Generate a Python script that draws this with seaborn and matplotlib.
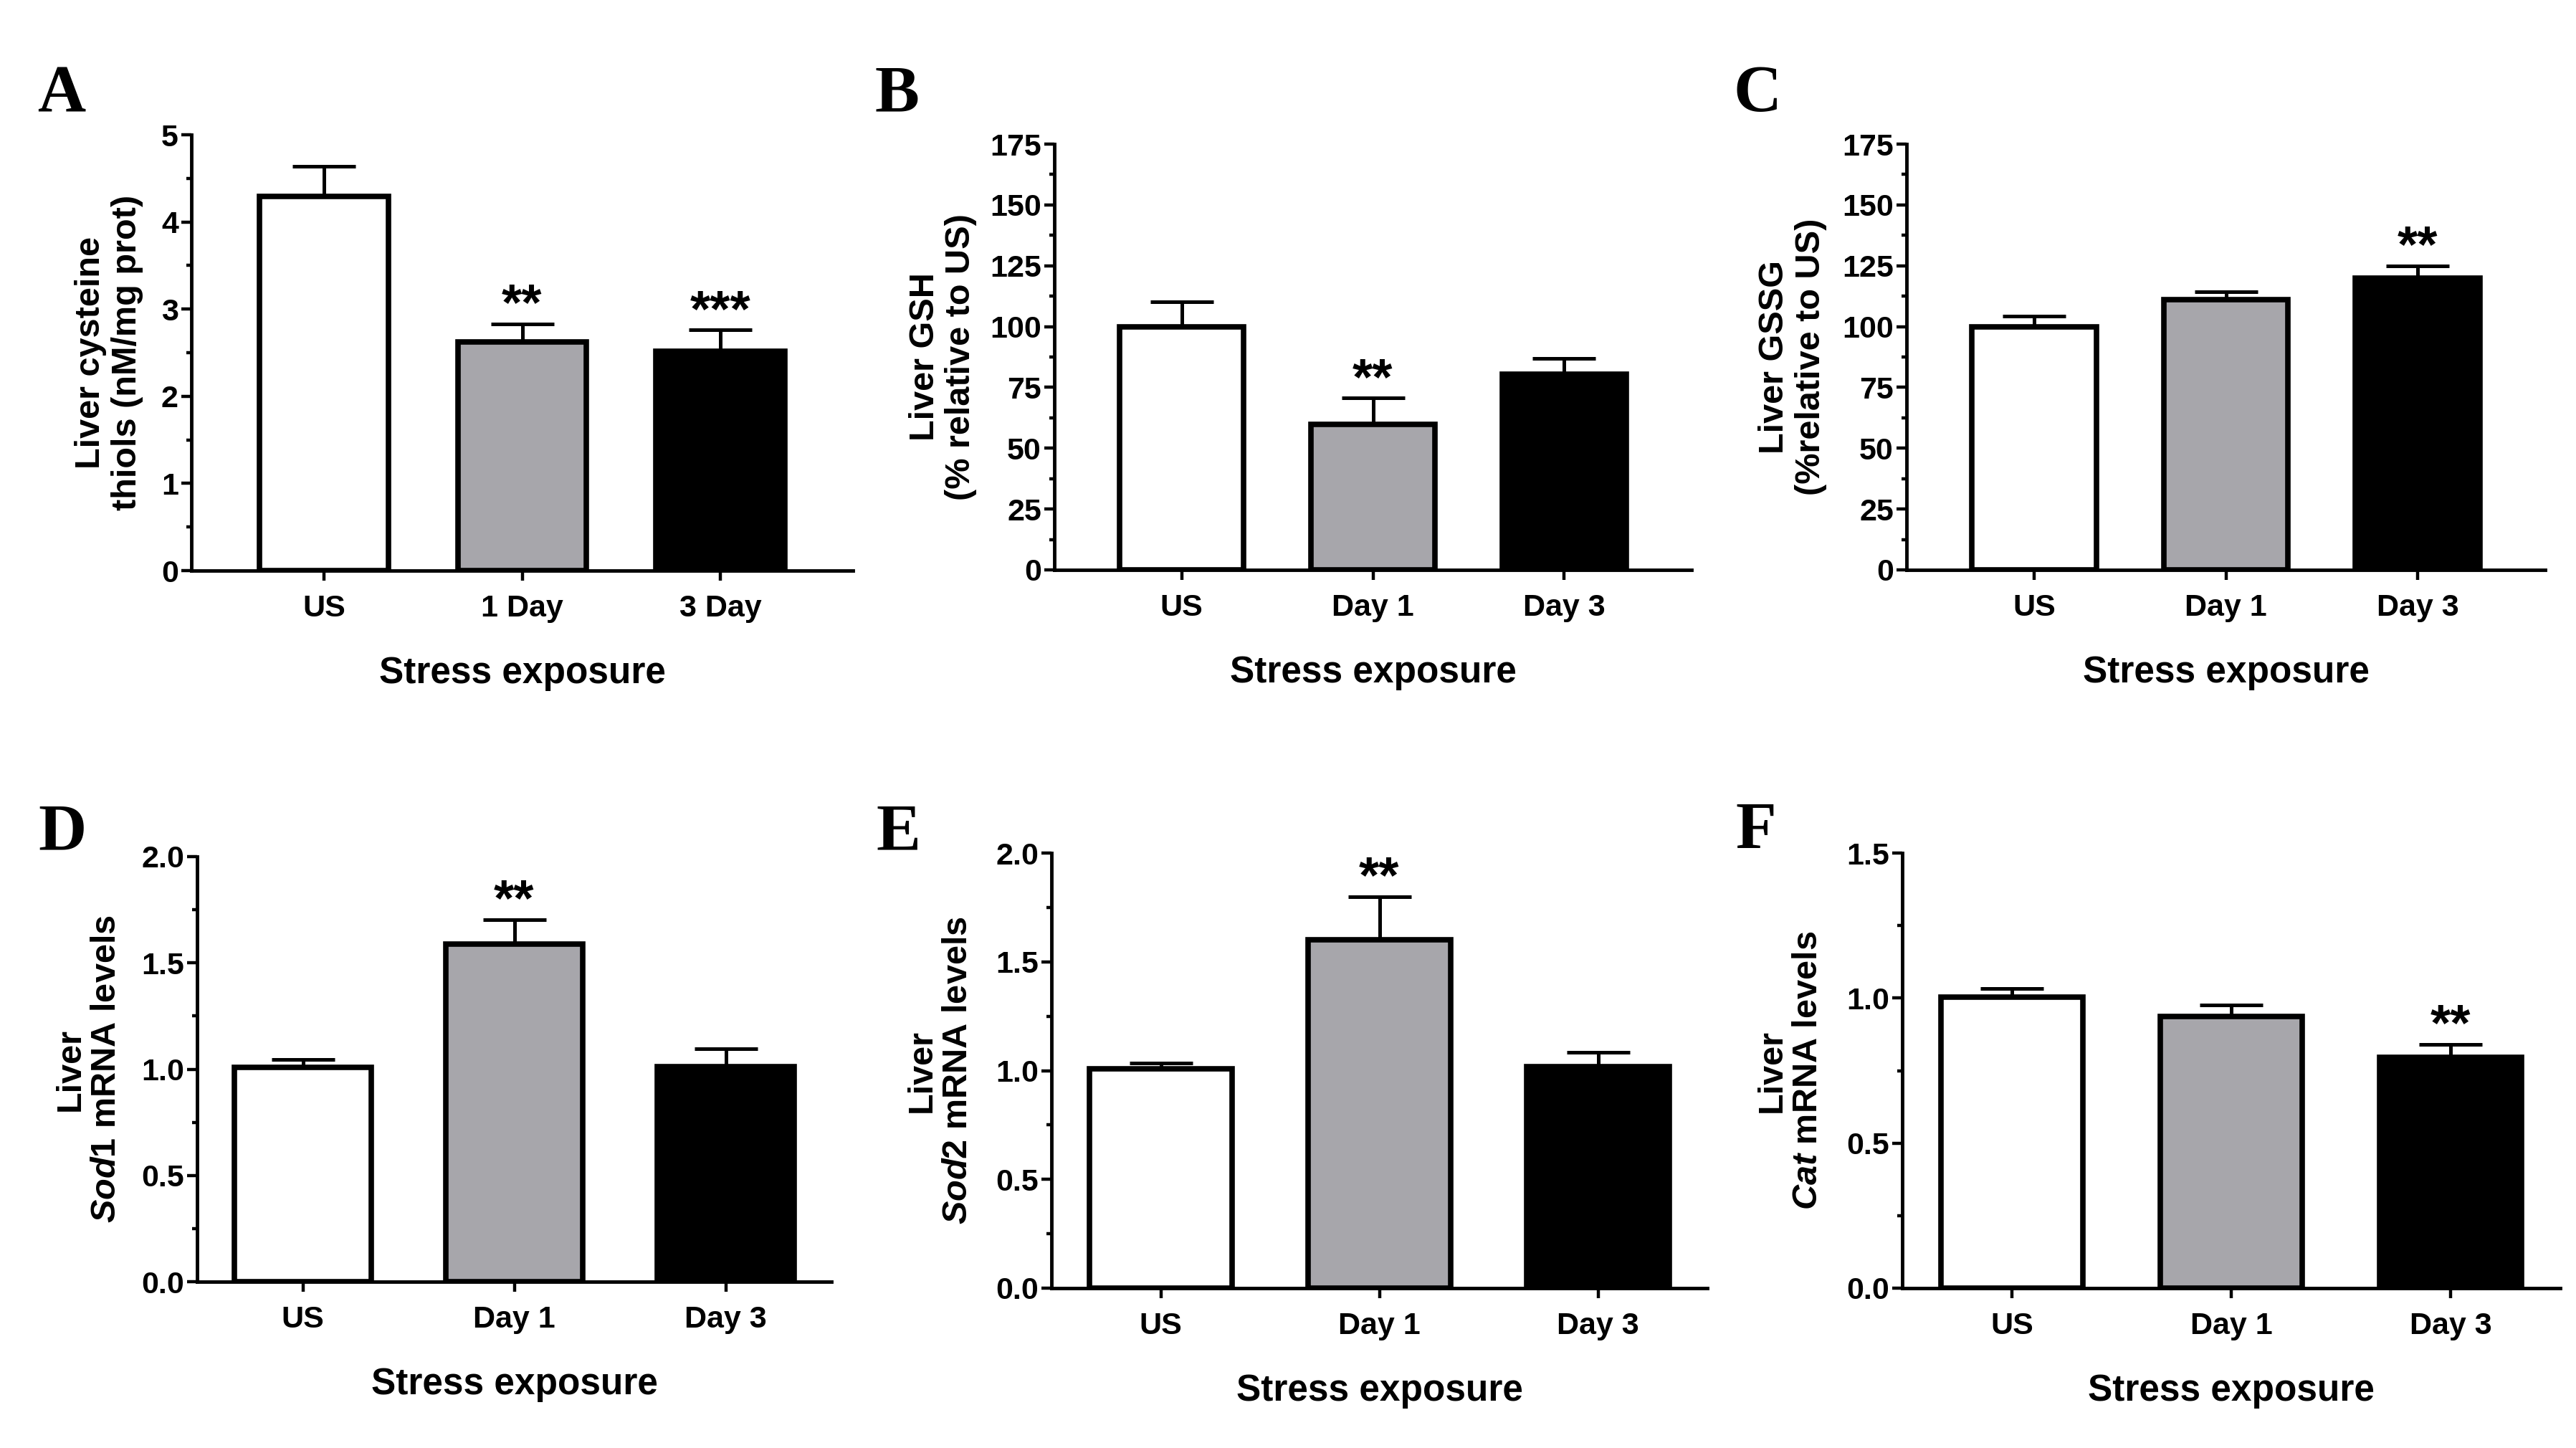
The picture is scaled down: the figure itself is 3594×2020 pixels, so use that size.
import matplotlib
matplotlib.use("Agg")
import matplotlib.pyplot as plt
import seaborn as sns
from matplotlib.ticker import MultipleLocator, AutoMinorLocator, FormatStrFormatter

# ---------------- data ----------------
cats_A = ["US", "1 Day", "3 Day"]
cats_days = ["US", "Day 1", "Day 3"]

cys_mean = [4.29, 2.62, 2.52]
cys_err = [0.35, 0.21, 0.24]
cys_stars = ["", "**", "***"]

gsh_mean = [100.0, 59.7, 80.5]
gsh_err = [10.1, 10.9, 6.4]
gsh_stars = ["", "**", ""]

gssg_mean = [100.0, 111.0, 120.0]
gssg_err = [4.4, 3.2, 5.0]
gssg_stars = ["", "", "**"]

sod1_mean = [1.007, 1.59, 1.011]
sod1_err = [0.040, 0.114, 0.085]
sod1_stars = ["", "**", ""]

sod2_mean = [1.008, 1.60, 1.018]
sod2_err = [0.028, 0.20, 0.065]
sod2_stars = ["", "**", ""]

cat_mean = [1.003, 0.937, 0.796]
cat_err = [0.031, 0.040, 0.044]
cat_stars = ["", "", "**"]

bar_colors = ["#ffffff", "#a7a6ab", "#000000"]

# ---------------- style ----------------
sns.set_style("ticks", rc={"axes.edgecolor": "black", "text.color": "black",
                           "xtick.color": "black", "ytick.color": "black",
                           "axes.labelcolor": "black"})
plt.rcParams["font.family"] = ["Liberation Sans", "DejaVu Sans"]
plt.rcParams["font.weight"] = "bold"
plt.rcParams["mathtext.fontset"] = "custom"
plt.rcParams["mathtext.rm"] = "Liberation Sans:bold"
plt.rcParams["mathtext.it"] = "Liberation Sans:italic:bold"
plt.rcParams["mathtext.bf"] = "Liberation Sans:bold"

W, H = 3594, 2020
fig = plt.figure(figsize=(W / 100, H / 100), dpi=100)


def rect(left_px, right_px, top_px, bottom_px):
    return [left_px / W, 1 - bottom_px / H, (right_px - left_px) / W, (bottom_px - top_px) / H]


panels = [
    dict(r=rect(267, 1190, 188, 796), cats=cats_A, m=cys_mean, e=cys_err, s=cys_stars,
         ylim=(0, 5), major=1, fmt="%d", xlim=(-0.67, 2.67),
         ylabel="Liver cysteine\nthiols (nM/mg prot)", lx=-0.073, letter="A", L=(86, 155)),
    dict(r=rect(1471, 2360, 201, 795), cats=cats_days, m=gsh_mean, e=gsh_err, s=gsh_stars,
         ylim=(0, 175), major=25, fmt="%d", xlim=(-0.665, 2.665),
         ylabel="Liver GSH\n(% relative to US)", lx=-0.121, letter="B", L=(1252, 155)),
    dict(r=rect(2660, 3551, 201, 795), cats=cats_days, m=gssg_mean, e=gssg_err, s=gssg_stars,
         ylim=(0, 175), major=25, fmt="%d", xlim=(-0.665, 2.665),
         ylabel="Liver GSSG\n(%relative to US)", lx=-0.125, letter="C", L=(2452, 155)),
    dict(r=rect(275, 1160, 1195, 1788), cats=cats_days, m=sod1_mean, e=sod1_err, s=sod1_stars,
         ylim=(0, 2.0), major=0.5, fmt="%.1f", xlim=(-0.5, 2.5),
         ylabel="Liver\n$\\mathit{Sod1}$ mRNA levels", lx=-0.1175, letter="D", L=(87, 1185)),
    dict(r=rect(1467, 2382, 1190, 1797), cats=cats_days, m=sod2_mean, e=sod2_err, s=sod2_stars,
         ylim=(0, 2.0), major=0.5, fmt="%.1f", xlim=(-0.5, 2.5),
         ylabel="Liver\n$\\mathit{Sod2}$ mRNA levels", lx=-0.118, letter="E", L=(1253, 1185)),
    dict(r=rect(2654, 3572, 1190, 1797), cats=cats_days, m=cat_mean, e=cat_err, s=cat_stars,
         ylim=(0, 1.5), major=0.5, fmt="%.1f", xlim=(-0.5, 2.5),
         ylabel="Liver\n$\\mathit{Cat}$ mRNA levels", lx=-0.119, letter="F", L=(2450, 1183)),
]

for p in panels:
    ax = fig.add_axes(p["r"])
    sns.barplot(x=p["cats"], y=p["m"], hue=p["cats"], palette=bar_colors, legend=False,
                width=0.65, edgecolor="black", linewidth=5.5, saturation=1, ax=ax, zorder=2)
    xs = list(range(len(p["cats"])))
    ax.errorbar(xs, p["m"], yerr=[[0] * len(xs), p["e"]], fmt="none", ecolor="black",
                elinewidth=3.6, capsize=32, capthick=3.6, zorder=1)
    for x, mv, ev, st in zip(xs, p["m"], p["e"], p["s"]):
        if st:
            ax.annotate(st, xy=(x, mv + ev), xytext=(0, 4), textcoords="offset points",
                        ha="center", va="baseline", fontsize=52, fontweight="bold")
    ax.set_ylim(*p["ylim"])
    ax.set_xlim(*p["xlim"])
    ax.yaxis.set_major_locator(MultipleLocator(p["major"]))
    ax.yaxis.set_minor_locator(AutoMinorLocator(2))
    ax.yaxis.set_major_formatter(FormatStrFormatter(p["fmt"]))
    sns.despine(ax=ax)
    for sp in ["left", "bottom"]:
        ax.spines[sp].set_linewidth(3.5)
    ax.tick_params(axis="y", which="major", length=10, width=3.2, pad=3, labelsize=31)
    ax.tick_params(axis="y", which="minor", length=5, width=3.2)
    ax.tick_params(axis="x", which="major", length=10, width=3.2, pad=14, labelsize=31)
    ax.tick_params(axis="x", which="minor", bottom=False)
    ax.set_ylabel(p["ylabel"], fontsize=35, fontweight="bold", linespacing=1.15)
    ax.yaxis.set_label_coords(p["lx"], 0.5)
    ax.set_xlabel("Stress exposure", fontsize=37, fontweight="bold")
    ax_h_px = p["r"][3] * H
    ax.xaxis.set_label_coords(0.5, -157 / ax_h_px)
    ax.xaxis.label.set_va("baseline")
    fig.text(p["L"][0] / W, 1 - p["L"][1] / H, p["letter"], fontfamily="Liberation Serif",
             fontweight="bold", fontsize=67, ha="center", va="baseline")

fig.savefig("out.png", dpi=100)
